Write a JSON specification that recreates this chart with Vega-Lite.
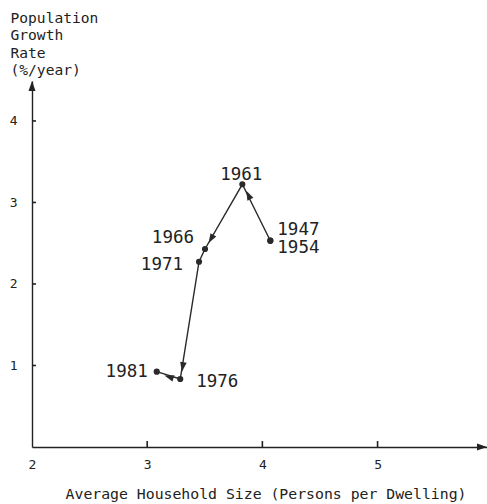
{
  "$schema": "https://vega.github.io/schema/vega-lite/v6.json",
  "width": 455,
  "height": 366,
  "autosize": {"type": "none"},
  "padding": {"left": 32, "top": 81, "right": 0, "bottom": 57},
  "background": "white",
  "config": {
    "view": {"stroke": null},
    "font": "DejaVu Sans Mono",
    "text": {"font": "DejaVu Sans Mono", "fontSize": 17.5, "color": "#222222"}
  },
  "datasets": {
    "census": [
      {"year": 1947, "size": 4.069, "growth": 2.531},
      {"year": 1954, "size": 4.069, "growth": 2.531},
      {"year": 1961, "size": 3.826, "growth": 3.223},
      {"year": 1966, "size": 3.502, "growth": 2.429},
      {"year": 1971, "size": 3.450, "growth": 2.273},
      {"year": 1976, "size": 3.287, "growth": 0.834},
      {"year": 1981, "size": 3.083, "growth": 0.924}
    ],
    "direction": [
      {"size": 3.878, "growth": 3.092, "heading": 334},
      {"size": 3.554, "growth": 2.552, "heading": 210},
      {"size": 3.308, "growth": 0.981, "heading": 189},
      {"size": 3.189, "growth": 0.859, "heading": 288}
    ],
    "axisEnds": [
      {"size": 2, "growth": 4.49, "heading": 0},
      {"size": 5.95, "growth": 0, "heading": 90}
    ],
    "sizeTicks": [{"size": 3, "growth": 0}, {"size": 4, "growth": 0}, {"size": 5, "growth": 0}],
    "growthTicks": [{"size": 2, "growth": 1}, {"size": 2, "growth": 2}, {"size": 2, "growth": 3}, {"size": 2, "growth": 4}]
  },
  "data": {"name": "census"},
  "encoding": {
    "x": {
      "field": "size",
      "type": "quantitative",
      "scale": {"domain": [2, 5.95], "nice": false, "zero": false},
      "axis": {
        "values": [2, 3, 4, 5],
        "grid": false,
        "ticks": false,
        "domainColor": "#222222",
        "domainWidth": 1.4,
        "labelFont": "DejaVu Sans Mono",
        "labelFontSize": 13,
        "labelColor": "#222222",
        "labelPadding": 11,
        "labelFlush": false,
        "title": "Average Household Size (Persons per Dwelling)",
        "titleFont": "DejaVu Sans Mono",
        "titleFontSize": 14.8,
        "titleFontWeight": "normal",
        "titleColor": "#222222",
        "titleX": 233.5,
        "titleY": 51,
        "titleAlign": "center",
        "titleBaseline": "alphabetic"
      }
    },
    "y": {
      "field": "growth",
      "type": "quantitative",
      "scale": {"domain": [0, 4.49], "nice": false, "zero": false},
      "axis": {
        "values": [1, 2, 3, 4],
        "grid": false,
        "ticks": false,
        "domainColor": "#222222",
        "domainWidth": 1.4,
        "labelFont": "DejaVu Sans Mono",
        "labelFontSize": 13,
        "labelColor": "#222222",
        "labelPadding": 15,
        "title": ["Population", "Growth", "Rate", "(%/year)"],
        "titleFont": "DejaVu Sans Mono",
        "titleFontSize": 14.6,
        "titleFontWeight": "normal",
        "titleColor": "#222222",
        "titleAngle": 0,
        "titleAlign": "left",
        "titleBaseline": "alphabetic",
        "titleLineHeight": 17.3,
        "titleX": -22,
        "titleY": -58.5
      }
    }
  },
  "layer": [
    {
      "data": {"name": "sizeTicks"},
      "mark": {"type": "point", "filled": true, "shape": "M0,0L0,-1", "size": 144, "stroke": "#222222", "strokeWidth": 1.6, "opacity": 1}
    },
    {
      "data": {"name": "growthTicks"},
      "mark": {"type": "point", "filled": true, "shape": "M0,0L1,0", "size": 64, "stroke": "#222222", "strokeWidth": 1.6, "opacity": 1}
    },
    {
      "mark": {"type": "line", "color": "#2a2a2a", "strokeWidth": 1.4},
      "encoding": {"order": {"field": "year", "type": "quantitative"}}
    },
    {
      "mark": {"type": "point", "filled": true, "shape": "circle", "size": 38, "color": "#2a2a2a", "opacity": 1}
    },
    {
      "data": {"name": "direction"},
      "mark": {"type": "point", "filled": true, "shape": "M0,-1L0.7,1L-0.7,1Z", "size": 90, "color": "#2a2a2a", "opacity": 1},
      "encoding": {"angle": {"field": "heading", "type": "quantitative", "scale": null}}
    },
    {
      "data": {"name": "axisEnds"},
      "mark": {"type": "point", "filled": true, "shape": "M0,0L0.7,2L-0.7,2Z", "size": 100, "color": "#222222", "opacity": 1},
      "encoding": {"angle": {"field": "heading", "type": "quantitative", "scale": null}}
    },
    {
      "transform": [{"filter": "datum.year == 1961"}],
      "mark": {"type": "text", "align": "center", "baseline": "alphabetic", "dx": -1, "dy": -4.5},
      "encoding": {"text": {"field": "year"}}
    },
    {
      "transform": [{"filter": "datum.year == 1947"}],
      "mark": {"type": "text", "align": "left", "baseline": "alphabetic", "dx": 7, "dy": -5.7},
      "encoding": {"text": {"field": "year"}}
    },
    {
      "transform": [{"filter": "datum.year == 1954"}],
      "mark": {"type": "text", "align": "left", "baseline": "alphabetic", "dx": 7, "dy": 12.8},
      "encoding": {"text": {"field": "year"}}
    },
    {
      "transform": [{"filter": "datum.year == 1966"}],
      "mark": {"type": "text", "align": "right", "baseline": "alphabetic", "dx": -11, "dy": -6},
      "encoding": {"text": {"field": "year"}}
    },
    {
      "transform": [{"filter": "datum.year == 1971"}],
      "mark": {"type": "text", "align": "right", "baseline": "alphabetic", "dx": -16, "dy": 8.3},
      "encoding": {"text": {"field": "year"}}
    },
    {
      "transform": [{"filter": "datum.year == 1976"}],
      "mark": {"type": "text", "align": "left", "baseline": "alphabetic", "dx": 16, "dy": 8},
      "encoding": {"text": {"field": "year"}}
    },
    {
      "transform": [{"filter": "datum.year == 1981"}],
      "mark": {"type": "text", "align": "right", "baseline": "alphabetic", "dx": -9, "dy": 5.3},
      "encoding": {"text": {"field": "year"}}
    }
  ]
}
